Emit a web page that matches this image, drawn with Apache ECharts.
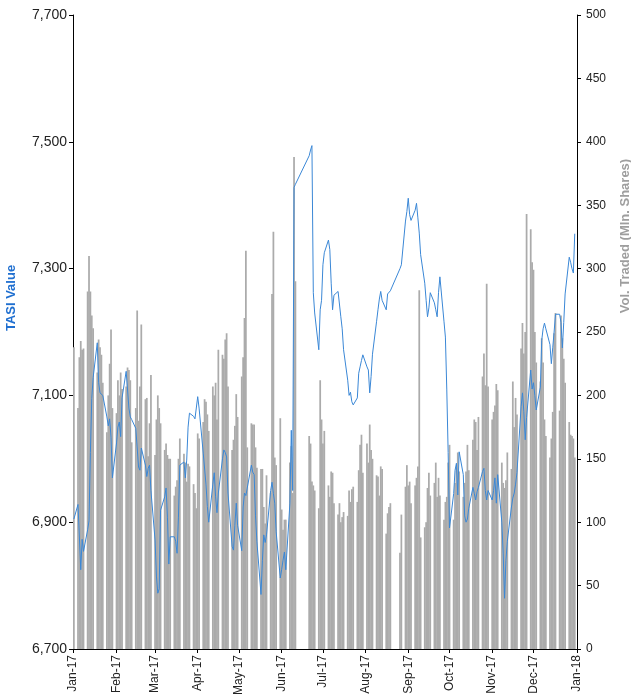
<!DOCTYPE html>
<html><head><meta charset="utf-8">
<script src="https://cdn.jsdelivr.net/npm/echarts@6/dist/echarts.min.js"></script>
<style>html,body{margin:0;padding:0;background:#fff}#chart{width:631px;height:697px}</style>
</head><body><div id="chart"></div>
<script>
const year = 2017;
const tradingDays = [
 '01-01','01-04','01-05','01-06','01-07','01-08','01-11','01-12','01-13','01-14','01-15','01-18','01-19','01-20','01-21','01-22','01-25','01-26','01-27','01-28','01-29',
 '02-01','02-02','02-03','02-04','02-05','02-08','02-09','02-10','02-11','02-12','02-15','02-16','02-17','02-18','02-19','02-22','02-23','02-24','02-25','02-26',
 '03-01','03-02','03-03','03-04','03-05','03-08','03-09','03-10','03-11','03-12','03-15','03-16','03-17','03-18','03-19','03-22','03-23','03-24','03-25','03-26','03-29','03-30','03-31',
 '04-01','04-02','04-05','04-06','04-07','04-08','04-09','04-12','04-13','04-14','04-15','04-16','04-19','04-20','04-21','04-22','04-23','04-26','04-27','04-28','04-29','04-30',
 '05-03','05-04','05-05','05-06','05-07','05-10','05-11','05-12','05-13','05-14','05-17','05-18','05-19','05-20','05-21','05-24','05-25','05-26','05-27','05-28','05-31',
 '06-01','06-02','06-03','06-04','06-07','06-08','06-09','06-10','06-11','06-21','06-22','06-23','06-24','06-25','06-28','06-29','06-30',
 '07-01','07-02','07-05','07-06','07-07','07-08','07-09','07-12','07-13','07-14','07-15','07-16','07-19','07-20','07-21','07-22','07-23','07-26','07-27','07-28','07-29','07-30',
 '08-02','08-03','08-04','08-05','08-06','08-09','08-10','08-11','08-12','08-13','08-16','08-17','08-18','08-19','08-26','08-27','08-30','08-31',
 '09-01','09-02','09-03','09-06','09-07','09-08','09-09','09-10','09-13','09-14','09-15','09-16','09-17','09-20','09-21','09-22','09-23','09-24','09-27','09-28','09-29','09-30',
 '10-01','10-04','10-05','10-06','10-07','10-08','10-11','10-12','10-13','10-14','10-15','10-18','10-19','10-20','10-21','10-22','10-25','10-26','10-27','10-28','10-29',
 '11-01','11-02','11-03','11-04','11-05','11-08','11-09','11-10','11-11','11-12','11-15','11-16','11-17','11-18','11-19','11-22','11-23','11-24','11-25','11-26','11-29','11-30',
 '12-01','12-02','12-03','12-06','12-07','12-08','12-09','12-10','12-13','12-14','12-15','12-16','12-17','12-20','12-21','12-22','12-23','12-24','12-27','12-28','12-29','12-30','12-31'
];
const volume = [
 238,190,230,243,236,237,282,310,282,263,253,218,244,238,232,210,171,200,225,252,190,
 186,212,200,218,205,207,222,220,212,163,190,267,180,207,256,197,198,152,178,216,
 153,181,200,190,178,157,162,153,150,150,121,128,133,150,166,154,147,132,146,144,130,123,111,
 170,166,179,197,195,185,172,207,200,210,181,236,232,229,244,249,207,157,165,176,201,183,
 215,230,261,314,159,178,177,177,159,143,142,142,112,99,137,123,280,329,151,145,182,
 110,94,102,102,147,160,123,388,290,168,162,132,129,125,111,212,181,
 162,172,129,120,140,139,115,106,115,100,104,108,105,125,116,126,128,116,141,161,169,139,
 162,147,177,157,150,137,136,121,144,142,91,107,112,115,76,106,128,145,
 129,132,115,129,135,144,283,88,96,100,127,139,121,131,147,120,135,121,102,116,120,147,
 161,102,131,143,155,140,120,131,140,161,141,165,181,179,157,183,215,233,208,288,207,
 181,187,192,209,204,147,131,127,133,155,142,211,175,198,185,237,257,233,250,343,331,305,
 299,250,226,211,245,226,181,168,151,166,187,249,265,188,263,245,229,210,179,169,168,166,151
];
const tasi = [
 6905,6928,6930,6825,6873,6854,6888,6902,7010,7095,7128,7183,7120,7104,7102,7100,7066,7052,7063,7034,6970,
 7025,7050,7058,7035,7096,7138,7140,7080,7066,7062,7048,7048,6987,6982,7017,6990,6972,6985,6990,6950,
 6872,6815,6788,6795,6919,6940,6954,6908,6834,6877,6877,6870,6851,6908,6990,6995,6970,6998,7050,7072,7067,7063,7061,
 7098,7080,7009,7011,6960,6925,6900,6960,6978,6940,6915,6946,7000,7014,7010,7003,6946,6862,6856,6895,6930,6895,
 6855,6924,6946,6942,6945,6990,6979,6975,6910,6870,6786,6840,6880,6868,6880,6950,6963,6945,6930,6885,6812,
 6825,6840,6853,6825,6930,7045,6950,7428,7433,7478,7487,7494,7262,7230,7172,7235,7250,
 7306,7325,7345,7330,7277,7235,7258,7264,7262,7224,7205,7172,7124,7100,7105,7090,7085,7096,7135,7145,7155,7164,
 7145,7140,7104,7130,7165,7217,7235,7252,7264,7250,7235,7260,7262,7265,7300,7306,7375,7390,
 7411,7385,7376,7392,7403,7380,7356,7322,7277,7250,7224,7238,7262,7246,7235,7224,7262,7287,7216,7192,7110,7010,
 6891,6945,6982,6993,6943,7011,6975,6910,6900,6905,6922,6955,6945,6935,6948,6955,6980,6985,6950,6935,6950,
 6935,6950,6970,6930,6975,6900,6850,6780,6840,6870,6924,6938,6946,6960,6978,7082,7104,7075,7030,7065,7140,7110,
 7120,7100,7077,7113,7187,7205,7214,7205,7180,7150,7175,7200,7228,7228,7215,7175,7215,7260,7318,7310,7300,7293,7355
];
const axisStart = '2017-01-01';
const axisEnd = '2018-01-01';
const monthNames = ['Jan','Feb','Mar','Apr','May','Jun','Jul','Aug','Sep','Oct','Nov','Dec'];

function ts(s){ const p = s.split('-').map(Number); return Date.UTC(p[0], p[1]-1, p[2]); }
const dayTs = tradingDays.map(md => ts(year + '-' + md));
const volData = dayTs.map((t, i) => [t, volume[i]]);
const tasiData = dayTs.map((t, i) => [t, tasi[i]]);
const font = 'Liberation Sans, Arial, Helvetica, sans-serif';
const DAY = 86400000;

const chart = echarts.init(document.getElementById('chart'));
chart.setOption({
  useUTC: true,
  animation: false,
  textStyle: { fontFamily: font },
  grid: { left: 73, right: 54, top: 15, bottom: 48, containLabel: false, outerBoundsMode: 'none' },
  xAxis: {
    type: 'time', min: ts(axisStart), max: ts(axisEnd),
    splitNumber: 12, minInterval: 28 * DAY, maxInterval: 31 * DAY,
    axisLine: { show: true, lineStyle: { color: '#000', width: 1 } },
    axisTick: { show: true, length: 4, lineStyle: { color: '#000' } },
    minorTick: { show: false },
    axisLabel: {
      rotate: 90, fontSize: 12, color: '#222', margin: 6, fontFamily: font,
      hideOverlap: false, showMinLabel: true, showMaxLabel: true,
      formatter: v => { const d = new Date(v + 2 * DAY); return monthNames[d.getUTCMonth()] + '-' + String(d.getUTCFullYear()).slice(2); }
    },
    splitLine: { show: false }
  },
  yAxis: [
    {
      type: 'value', min: 6700, max: 7700, interval: 200, position: 'left',
      name: 'TASI Value', nameLocation: 'middle', nameGap: 55, nameRotate: 90,
      nameTextStyle: { color: '#1f6fd0', fontWeight: 'bold', fontSize: 13, fontFamily: font, padding: [0, 0, 0, 68] },
      axisLine: { show: true, lineStyle: { color: '#000', width: 1 } },
      axisTick: { show: true, length: 4, lineStyle: { color: '#000' } },
      axisLabel: { fontSize: 14, color: '#222', margin: 6, fontFamily: font, formatter: v => v.toLocaleString('en-US') },
      splitLine: { show: false }
    },
    {
      type: 'value', min: 0, max: 500, interval: 50, position: 'right',
      name: 'Vol. Traded (Mln. Shares)', nameLocation: 'middle', nameGap: 42, nameRotate: 90,
      nameTextStyle: { color: '#9e9e9e', fontWeight: 'bold', fontSize: 13, fontFamily: font, padding: [0, 0, 0, 192] },
      axisLine: { show: true, lineStyle: { color: '#000', width: 1 } },
      axisTick: { show: true, length: 4, lineStyle: { color: '#000' } },
      axisLabel: { fontSize: 12, color: '#222', margin: 9, fontFamily: font },
      splitLine: { show: false }
    }
  ],
  series: [
    { name: 'Vol. Traded', type: 'bar', yAxisIndex: 1, data: volData, barWidth: 1.75,
      itemStyle: { color: '#ababab' }, z: 1 },
    { name: 'TASI', type: 'line', yAxisIndex: 0, data: tasiData, symbol: 'none', showSymbol: false,
      lineStyle: { color: '#3a87d6', width: 1 }, z: 3 }
  ]
});
</script>
</body></html>
